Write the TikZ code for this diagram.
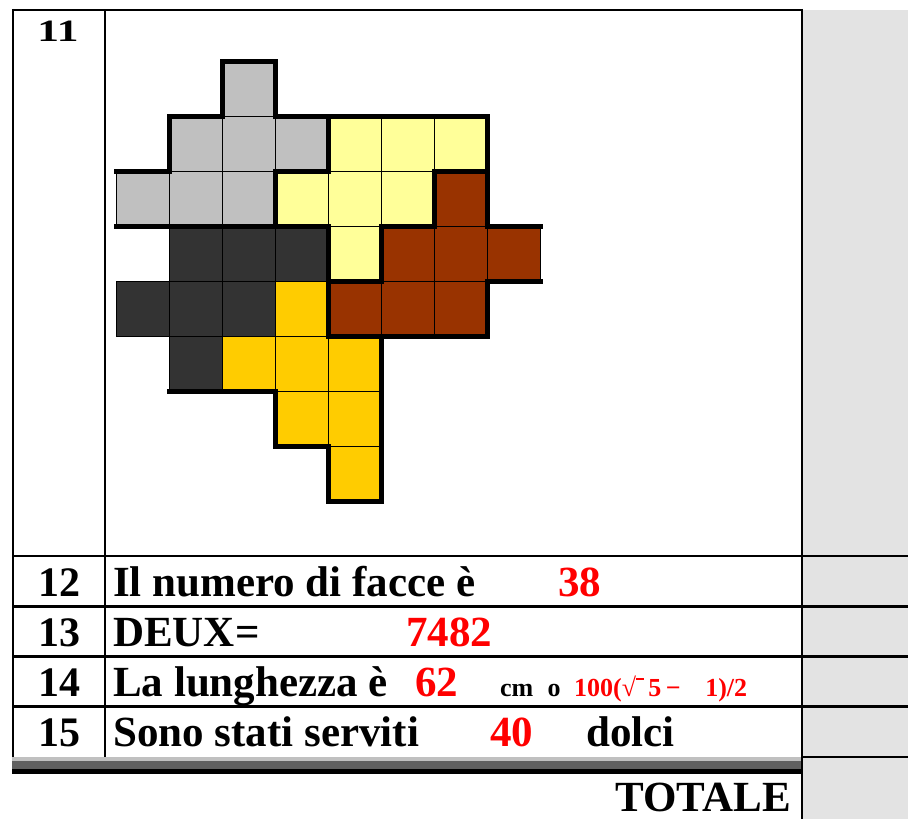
\documentclass[tikz,border=0pt]{standalone}
\usepackage{fontspec}
\setmainfont{Liberation Serif}
\usepackage{graphicx}
\definecolor{pcgray}{RGB}{192,192,192}
\definecolor{pcyellow}{RGB}{255,255,153}
\definecolor{pcbrown}{RGB}{153,51,0}
\definecolor{pcdark}{RGB}{51,51,51}
\definecolor{pcgold}{RGB}{255,204,0}
\definecolor{ansred}{RGB}{255,0,0}
\definecolor{colgray}{RGB}{227,227,227}
\definecolor{bandlight}{RGB}{192,192,192}
\definecolor{banddark}{RGB}{96,96,96}

\begin{document}
\begin{tikzpicture}[x=1pt, y=-1pt,
    rule/.style={line width=2.4pt},
    cell/.style={draw=black, line width=0.8pt},
    piece/.style={line width=4.6pt, line cap=rect},
    bigtxt/.style={inner sep=0pt, font=\fontsize{43}{48}\selectfont\bfseries},
    smalltxt/.style={inner sep=0pt, font=\fontsize{26}{30}\selectfont\bfseries}]
    \useasboundingbox (0,0) rectangle (908,819);
    % points column and bottom band
    \fill[colgray] (802,10) rectangle (908,819);
    \fill[bandlight] (12,756.5) rectangle (802,760.8);
    \fill[banddark] (12,760.8) rectangle (802,769);
    \fill[black] (12,769) rectangle (802,774);
    % table frame
    \draw[rule] (11.8,10) -- (802,10);
    \draw[rule] (13,8.8) -- (13,757);
    \draw[rule] (105,10) -- (105,757);
    \draw[rule] (802,8.8) -- (802,819);
    \foreach \y in {556,606.5,656.5,706.5}
        \draw[rule] (13,\y) -- (908,\y);
    \draw[line width=2pt] (802,757.3) -- (908,757.3);

    % the five pieces
    \begin{scope}[shift={(116.7,61.7)}, x=53pt, y=-55pt]
        \foreach \c/\r in {2/0,1/1,2/1,3/1,0/2,1/2,2/2}
            \draw[cell, fill=pcgray] (\c,\r) rectangle ++(1,1);
        \foreach \c/\r in {4/1,5/1,6/1,3/2,4/2,5/2,4/3}
            \draw[cell, fill=pcyellow] (\c,\r) rectangle ++(1,1);
        \foreach \c/\r in {6/2,5/3,6/3,7/3,4/4,5/4,6/4}
            \draw[cell, fill=pcbrown] (\c,\r) rectangle ++(1,1);
        \foreach \c/\r in {1/3,2/3,3/3,0/4,1/4,2/4,1/5}
            \draw[cell, fill=pcdark] (\c,\r) rectangle ++(1,1);
        \foreach \c/\r in {3/4,2/5,3/5,4/5,3/6,4/6,4/7}
            \draw[cell, fill=pcgold] (\c,\r) rectangle ++(1,1);
        % thick borders
        \draw[piece] (0,2) -- (1,2) -- (1,1) -- (2,1) -- (2,0) -- (3,0) -- (3,1)
            -- (7,1) -- (7,3) -- (8,3);
        \draw[piece] (4,1) -- (4,2) -- (3,2) -- (3,3);
        \draw[piece] (0,3) -- (4,3) -- (4,5) -- (5,5);
        \draw[piece] (4,4) -- (5,4) -- (5,3) -- (6,3) -- (6,2) -- (7,2);
        \draw[piece] (8,4) -- (7,4) -- (7,5) -- (5,5) -- (5,8) -- (4,8) -- (4,7)
            -- (3,7) -- (3,6) -- (1,6);
    \end{scope}

    % row numbers
    \node[bigtxt, anchor=base, font=\fontsize{31}{36}\selectfont\bfseries] (n11) at (58,41.7) {\scalebox{1.4}[1]{11}};
    \node[bigtxt, anchor=base, font=\fontsize{42}{48}\selectfont\bfseries] (n12) at (59,596.5) {12};
    \node[bigtxt, anchor=base, font=\fontsize{42}{48}\selectfont\bfseries] (n13) at (59,646.5) {13};
    \node[bigtxt, anchor=base, font=\fontsize{42}{48}\selectfont\bfseries] (n14) at (59,696.5) {14};
    \node[bigtxt, anchor=base, font=\fontsize{42}{48}\selectfont\bfseries] (n15) at (59,746.5) {15};

    % answers
    \node[bigtxt, anchor=base west] (q12) at (113,596.5) {Il numero di facce è};
    \node[bigtxt, anchor=base west, text=ansred] (a12) at (558,596.5) {38};
    \node[bigtxt, anchor=base west] (q13) at (113,646.5) {DEUX=};
    \node[bigtxt, anchor=base west, text=ansred] (a13) at (406,646.5) {7482};
    \node[bigtxt, anchor=base west] (q14) at (113,696.5) {La lunghezza è};
    \node[bigtxt, anchor=base west, text=ansred] (a14) at (415,696.5) {62};
    \node[smalltxt, anchor=base west] (u14) at (500,696.5) {cm\hspace{0.55em}o};
    \node[smalltxt, anchor=base west, text=ansred] (f14) at (574,696.5)
        {100(√\rule[17pt]{8pt}{1.6pt}\,5\,−\hspace{0.95em}1)/2};
    \node[bigtxt, anchor=base west] (q15) at (113,746.5) {Sono stati serviti};
    \node[bigtxt, anchor=base west, text=ansred] (a15) at (490,746.5) {40};
    \node[bigtxt, anchor=base west] (u15) at (586,746.5) {dolci};

    \node[bigtxt, anchor=base east] (tot) at (791,811.7) {TOTALE};
\end{tikzpicture}
\end{document}
